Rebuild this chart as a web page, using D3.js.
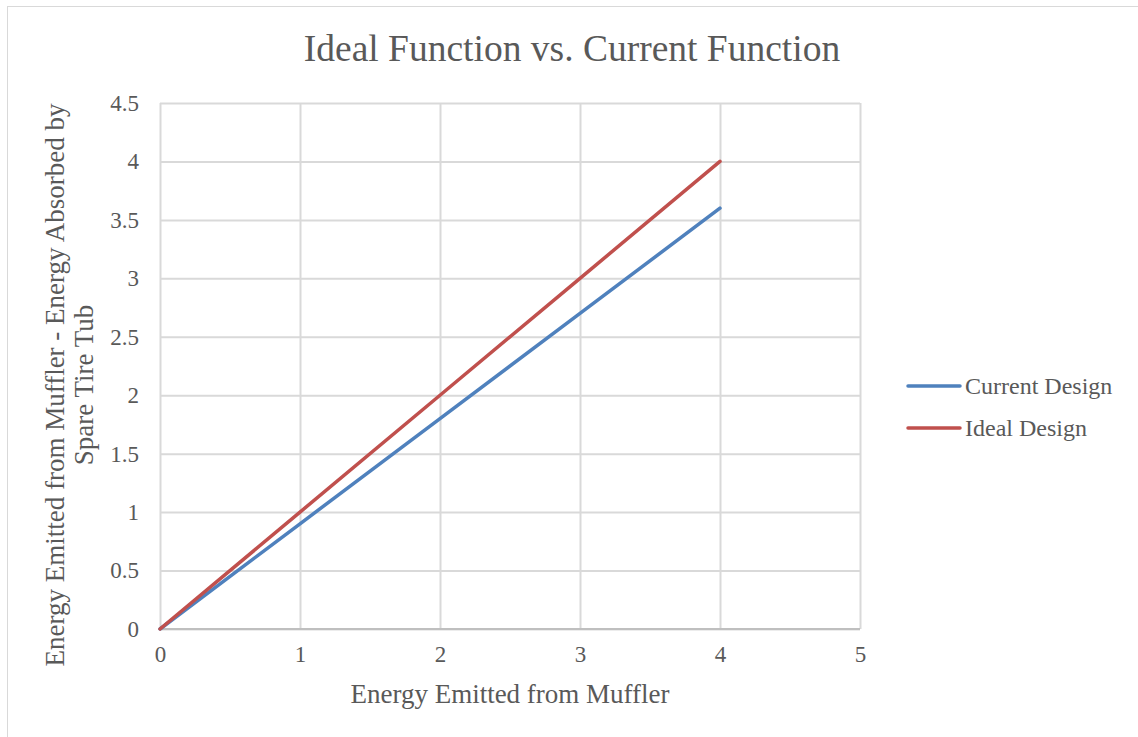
<!DOCTYPE html>
<html>
<head>
<meta charset="utf-8">
<script src="https://cdn.jsdelivr.net/npm/d3@7"></script>
<style>
  body { margin: 0; background: #fff; }
  text { font-family: "Liberation Serif", "Times New Roman", serif; fill: #595959; }
</style>
</head>
<body>
<svg id="chart" width="1138" height="737"></svg>
<script>
const xValues = [0, 1, 2, 3, 4];
const currentDesign = [0, 0.9, 1.8, 2.7, 3.6];
const idealDesign = [0, 1, 2, 3, 4];
const xTicks = [0, 1, 2, 3, 4, 5];
const yTicks = [0, 0.5, 1, 1.5, 2, 2.5, 3, 3.5, 4, 4.5];
const seriesNames = ['Current Design', 'Ideal Design'];
const seriesColors = ['#4f81bd', '#c0504d'];

const svgEl = d3.select('#chart');

// chart frame (runs off the right and bottom edges)
svgEl.append('rect')
    .attr('x', 7.5).attr('y', 6.5)
    .attr('width', 1140).attr('height', 740)
    .attr('fill', 'none')
    .attr('stroke', '#d9d9d9');

const margin = { left: 160, top: 103 };
const width = 700, height = 526;

const xScale = d3.scaleLinear().domain([0, 5]).range([0, width]);
const yScale = d3.scaleLinear().domain([0, 4.5]).range([height, 0]);

const svg = svgEl.append('g')
    .attr('transform', `translate(${margin.left},${margin.top})`);

// X grid lines with labels
const xAxis = d3.axisBottom(xScale)
    .tickValues(xTicks)
    .tickSize(-height)
    .tickPadding(17)
    .tickFormat((v) => v);
const xAxisGroup = svg.append('g')
    .attr('transform', `translate(0, ${height})`)
    .call(xAxis);
xAxisGroup.select('.domain').remove();
xAxisGroup.selectAll('line').attr('stroke', '#d9d9d9').attr('stroke-width', 2);
xAxisGroup.selectAll('text')
    .attr('fill', '#595959')
    .attr('font-size', '23px');

// Y grid lines with labels
const yAxis = d3.axisLeft(yScale)
    .tickValues(yTicks)
    .tickSize(-width)
    .tickPadding(21)
    .tickFormat((v) => v);
const yAxisGroup = svg.append('g').call(yAxis);
yAxisGroup.select('.domain').remove();
yAxisGroup.selectAll('line').attr('stroke', '#d9d9d9').attr('stroke-width', 2);
yAxisGroup.selectAll('text')
    .attr('fill', '#595959')
    .attr('font-size', '23px');

// base axis line
svg.append('line')
    .attr('x1', 0).attr('x2', width)
    .attr('y1', height).attr('y2', height)
    .attr('stroke', '#bfbfbf').attr('stroke-width', 2);

// lines
const line = d3.line()
    .x((d) => xScale(d[0]))
    .y((d) => yScale(d[1]));

[currentDesign, idealDesign].forEach((vals, i) => {
    svg.append('path')
        .attr('d', line(xValues.map((x, j) => [x, vals[j]])))
        .attr('stroke', seriesColors[i])
        .attr('stroke-width', 3.5)
        .attr('stroke-linecap', 'round')
        .attr('fill', 'none');
});

// title
svgEl.append('text')
    .attr('x', 572).attr('y', 61)
    .attr('text-anchor', 'middle')
    .attr('font-size', '37.5px')
    .text('Ideal Function vs. Current Function');

// x axis title
svgEl.append('text')
    .attr('x', 510).attr('y', 703)
    .attr('text-anchor', 'middle')
    .attr('font-size', '27px')
    .text('Energy Emitted from Muffler');

// y axis title (two lines)
const yTitle = svgEl.append('text')
    .attr('transform', 'translate(64,385) rotate(-90)')
    .attr('text-anchor', 'middle')
    .attr('font-size', '27px');
yTitle.append('tspan').attr('x', 0).attr('dy', 0)
    .text('Energy Emitted from Muffler - Energy Absorbed by');
yTitle.append('tspan').attr('x', 0).attr('dy', 29)
    .text('Spare Tire Tub');

// legend
const legend = svgEl.append('g');
seriesNames.forEach((name, i) => {
    const y = 386 + i * 42;
    legend.append('line')
        .attr('x1', 908).attr('x2', 960)
        .attr('y1', y).attr('y2', y)
        .attr('stroke', seriesColors[i])
        .attr('stroke-width', 3.5)
        .attr('stroke-linecap', 'round');
    legend.append('text')
        .attr('x', 965).attr('y', y + 8)
        .attr('font-size', '24px')
        .text(name);
});
</script>
</body>
</html>
